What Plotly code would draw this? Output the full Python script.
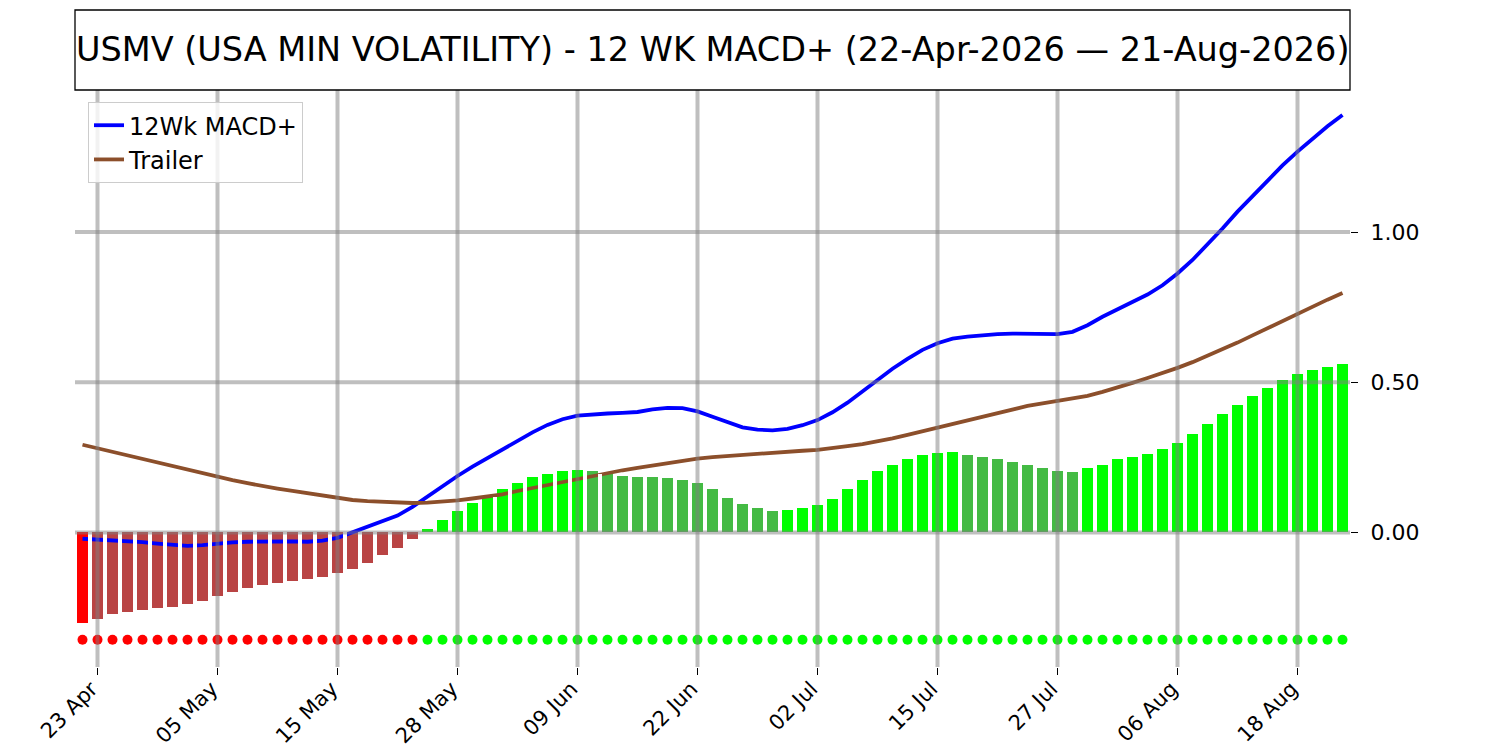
import numpy as np
import pandas as pd
import plotly.graph_objects as go

# trading days 22-Apr-2026 .. 21-Aug-2026 (US market holidays removed)
holidays = ['2026-05-25', '2026-06-19', '2026-07-03']
dates = pd.bdate_range('2026-04-22', '2026-08-21', freq='C', holidays=holidays)
date_labels = [d.strftime('%d %b') for d in dates]

tick_labels = ['23 Apr', '05 May', '15 May', '28 May', '09 Jun', '22 Jun',
               '02 Jul', '15 Jul', '27 Jul', '06 Aug', '18 Aug']

# histogram (MACD+ minus trailer)
hist = [-0.300, -0.287, -0.272, -0.265, -0.258, -0.251, -0.248, -0.237, -0.228, -0.212,
        -0.198, -0.185, -0.175, -0.168, -0.162, -0.155, -0.147, -0.135, -0.122, -0.102,
        -0.075, -0.051, -0.022, 0.013, 0.043, 0.073, 0.097, 0.118, 0.143, 0.163,
        0.183, 0.196, 0.205, 0.207, 0.206, 0.193, 0.189, 0.186, 0.183, 0.182,
        0.176, 0.163, 0.143, 0.116, 0.096, 0.080, 0.073, 0.074, 0.080, 0.093,
        0.113, 0.143, 0.173, 0.203, 0.226, 0.243, 0.259, 0.265, 0.267, 0.259,
        0.252, 0.246, 0.236, 0.226, 0.213, 0.203, 0.202, 0.213, 0.226, 0.243,
        0.252, 0.262, 0.279, 0.299, 0.329, 0.362, 0.395, 0.425, 0.455, 0.482,
        0.508, 0.528, 0.541, 0.551, 0.561]

# 12Wk MACD+ line
macd = [-0.021, -0.023, -0.025, -0.028, -0.032, -0.037, -0.042, -0.045, -0.042, -0.037,
        -0.033, -0.031, -0.030, -0.030, -0.030, -0.031, -0.027, -0.018, 0.001, 0.018,
        0.036, 0.056, 0.085, 0.120, 0.155, 0.188, 0.219, 0.248, 0.278, 0.307,
        0.333, 0.358, 0.377, 0.389, 0.394, 0.396, 0.398, 0.401, 0.410, 0.415,
        0.414, 0.403, 0.385, 0.366, 0.350, 0.342, 0.340, 0.345, 0.357, 0.374,
        0.400, 0.432, 0.470, 0.508, 0.545, 0.578, 0.608, 0.630, 0.645, 0.652,
        0.657, 0.660, 0.662, 0.662, 0.660, 0.660, 0.668, 0.690, 0.718, 0.743,
        0.767, 0.792, 0.823, 0.862, 0.907, 0.958, 1.012, 1.068, 1.120, 1.172,
        1.222, 1.268, 1.312, 1.352, 1.390]

# Trailer line
trailer = [0.292, 0.280, 0.268, 0.255, 0.243, 0.231, 0.219, 0.207, 0.195, 0.184,
           0.174, 0.164, 0.154, 0.146, 0.138, 0.130, 0.122, 0.114, 0.108, 0.104,
           0.101, 0.099, 0.098, 0.099, 0.102, 0.107, 0.113, 0.120, 0.127, 0.138,
           0.148, 0.158, 0.168, 0.179, 0.190, 0.199, 0.207, 0.215, 0.223, 0.232,
           0.240, 0.246, 0.251, 0.255, 0.259, 0.262, 0.265, 0.268, 0.272, 0.275,
           0.280, 0.287, 0.294, 0.302, 0.313, 0.325, 0.337, 0.350, 0.363, 0.376,
           0.388, 0.400, 0.411, 0.421, 0.430, 0.438, 0.446, 0.455, 0.468, 0.482,
           0.498, 0.514, 0.530, 0.548, 0.567, 0.588, 0.610, 0.632, 0.656, 0.680,
           0.705, 0.729, 0.752, 0.775, 0.797]

dot_level = -0.357

x = np.arange(len(dates))
tickvals = [date_labels.index(t) for t in tick_labels]

# bar colours: bright when the histogram moves away from zero, muted when it shrinks
bar_colors = []
for i, v in enumerate(hist):
    prev = hist[i - 1] if i > 0 else None
    if v >= 0:
        bar_colors.append('#00ff00' if prev is None or v >= prev else '#44bb44')
    else:
        bar_colors.append('#ff0000' if prev is None or v <= prev else '#b94444')
dot_colors = ['#00ff00' if v >= 0 else '#ff0000' for v in hist]

bar_w = 0.72
# white gaps between bars that cut the lines where they run through the bars
gap_x, gap_h = [], []
for i in range(len(hist) - 1):
    a, b = hist[i], hist[i + 1]
    gap_x.append(i + 0.5)
    gap_h.append(np.sign(a) * min(abs(a), abs(b)) if a * b > 0 else 0)

font = 'DejaVu Sans'
fig = go.Figure()
fig.add_trace(go.Bar(x=x, y=hist, width=bar_w, marker=dict(color=bar_colors, line=dict(width=0)),
                     showlegend=False, zorder=0, hoverinfo='skip'))
fig.add_trace(go.Scatter(x=x, y=macd, mode='lines', name='12Wk MACD+',
                         line=dict(color='#0000ff', width=3.8), zorder=1))
fig.add_trace(go.Scatter(x=x, y=trailer, mode='lines', name='Trailer',
                         line=dict(color='#8c4f2b', width=3.8), zorder=1))
fig.add_trace(go.Bar(x=gap_x, y=gap_h, width=1 - bar_w, marker=dict(color='white', line=dict(width=0)),
                     showlegend=False, zorder=2, hoverinfo='skip'))
fig.add_trace(go.Scatter(x=x, y=[dot_level] * len(x), mode='markers',
                         marker=dict(color=dot_colors, size=10), showlegend=False, zorder=3))

grid = dict(color='rgba(128,128,128,0.5)', width=4)
for tv in tickvals:
    fig.add_shape(type='line', xref='x', yref='paper', x0=tv, x1=tv, y0=0, y1=1, line=grid, layer='above')
for yv in [0, 0.5, 1.0]:
    fig.add_shape(type='line', xref='paper', yref='y', x0=0, x1=1, y0=yv, y1=yv, line=grid, layer='above')

# title box
fig.add_shape(type='rect', xref='paper', yref='paper', x0=0, x1=1, y0=1, y1=1 + 80 / 577,
              line=dict(color='black', width=1.3), layer='above')
fig.add_annotation(text='USMV (USA MIN VOLATILITY) - 12 WK MACD+ (22-Apr-2026 \u2014 21-Aug-2026)',
                   xref='paper', yref='paper', x=0.5, y=1 + 40 / 577, showarrow=False,
                   xanchor='center', yanchor='middle', font=dict(family=font, size=33.5, color='black'))

fig.update_layout(
    width=1500, height=750,
    margin=dict(l=67, r=158, t=82, b=91),
    plot_bgcolor='white', paper_bgcolor='white',
    barmode='overlay', bargap=0,
    font=dict(family=font, color='black'),
    legend=dict(x=0.0102, y=0.979, xanchor='left', yanchor='top',
                bgcolor='rgba(255,255,255,0.8)', bordercolor='#cccccc', borderwidth=1,
                font=dict(family=font, size=24, color='black')),
    xaxis=dict(range=[-0.5, len(x) - 0.5], tickvals=tickvals, ticktext=tick_labels, tickangle=-45,
               ticks='outside', ticklen=7, tickwidth=1.3, tickcolor='black', automargin=False,
               ticklabelstandoff=-7, ticklabelshift=-6,
               showgrid=False, zeroline=False, showline=True, mirror=True,
               linecolor='black', linewidth=1.3, tickfont=dict(family=font, size=21)),
    yaxis=dict(range=[-0.448, 1.473], side='right', tickvals=[0, 0.5, 1.0], tickformat='.2f',
               ticks='outside', ticklen=7, tickwidth=1.3, tickcolor='black', ticklabelstandoff=8,
               automargin=False,
               showgrid=False, zeroline=False, showline=True, mirror=True,
               linecolor='black', linewidth=1.3, tickfont=dict(family=font, size=22)),
)

fig.write_html("out.html")
